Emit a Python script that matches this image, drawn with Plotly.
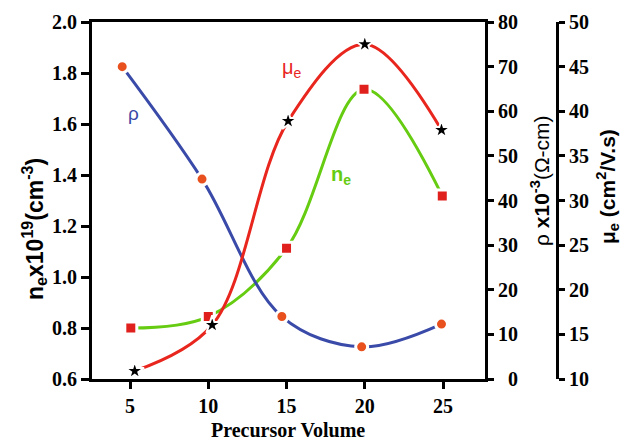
import plotly.graph_objects as go

# Precursor volume at which each quantity was measured
volume_rho = [4.5, 9.6, 14.7, 19.8, 24.9]
volume_mu = [5.3, 10.25, 15.1, 20.0, 24.9]
volume_n = [5.05, 10.0, 15.0, 19.95, 24.95]

# Resistivity rho (x10^-3 ohm-cm), mobility mu_e (cm^2/V.s), carrier conc. n_e (x10^19 cm^-3)
rho = [70.0, 44.8, 14.0, 7.2, 12.3]
mu_e = [10.9, 16.05, 38.9, 47.5, 37.9]
n_e = [0.80, 0.845, 1.113, 1.736, 1.318]

x_ticks = [5, 10, 15, 20, 25]
rho_ticks = [0, 10, 20, 30, 40, 50, 60, 70, 80]
rho_ticktext = ["\u00a0\u00a00"] + [str(v) for v in rho_ticks[1:]]

BLUE = "#3a4aa8"
RED = "#e8261e"
GREEN = "#66cc11"
ORANGE = "#e8501e"
SQUARE_RED = "#e0201c"

W, H = 623, 440
ML, MR, MT, MB = 92, 10, 22, 61
PW = W - ML - MR
PH = H - MT - MB
x_end = 393 / PW

fig = go.Figure()

# smooth curves, each followed by its markers (white rim leaves a small gap in the line)
fig.add_trace(go.Scatter(x=volume_n, y=n_e, mode="lines", yaxis="y",
                         line=dict(color=GREEN, width=3, shape="spline", smoothing=1.0),
                         hoverinfo="skip", showlegend=False))
fig.add_trace(go.Scatter(x=volume_n, y=n_e, mode="markers", yaxis="y",
                         marker=dict(symbol="square", size=12, color=SQUARE_RED,
                                     line=dict(color="white", width=3)),
                         showlegend=False))

fig.add_trace(go.Scatter(x=volume_rho, y=rho, mode="lines", yaxis="y2",
                         line=dict(color=BLUE, width=3, shape="spline", smoothing=1.0),
                         hoverinfo="skip", showlegend=False))
fig.add_trace(go.Scatter(x=volume_rho, y=rho, mode="markers", yaxis="y2",
                         marker=dict(symbol="circle", size=12, color=ORANGE,
                                     line=dict(color="white", width=3)),
                         showlegend=False))

fig.add_trace(go.Scatter(x=volume_mu, y=mu_e, mode="lines", yaxis="y3",
                         line=dict(color=RED, width=3, shape="spline", smoothing=1.0),
                         hoverinfo="skip", showlegend=False))
fig.add_trace(go.Scatter(x=volume_mu, y=mu_e, mode="markers", yaxis="y3",
                         marker=dict(symbol="star", size=14, color="black",
                                     line=dict(color="white", width=2)),
                         showlegend=False))

tick_font = dict(family="Liberation Serif", size=20, color="black", weight="bold")
axis_common = dict(showline=True, linewidth=3, linecolor="black", ticks="outside",
                   tickwidth=3, tickcolor="black", showgrid=False, zeroline=False,
                   tickfont=tick_font)

fig.update_layout(
    width=W, height=H,
    margin=dict(l=ML, r=MR, t=MT, b=MB),
    paper_bgcolor="white", plot_bgcolor="white",
    xaxis=dict(domain=[0, x_end], range=[2.57, 27.68], tickvals=x_ticks,
               ticklen=7, mirror=True, **axis_common),
    yaxis=dict(range=[0.6, 2.0], tick0=0.6, dtick=0.2, tickformat=".1f",
               ticklen=8, **axis_common),
    yaxis2=dict(overlaying="y", side="right", anchor="x", range=[0, 80],
                tickvals=rho_ticks, ticktext=rho_ticktext, ticklen=6, **axis_common),
    yaxis3=dict(overlaying="y", side="right", anchor="free", position=(557 - ML) / PW,
                range=[10, 50], tick0=10, dtick=5, ticklen=6, **axis_common),
)

def px(xp):
    return (xp - ML) / PW

def py(yp):
    return (H - MB - yp) / PH

sans = "Liberation Sans"
annotations = [
    dict(text="<b>n<sub>e</sub>x10<sup>19</sup>(cm<sup>-3</sup>)</b>", x=px(34), y=py(229),
         textangle=-90, font=dict(family=sans, size=23, color="black")),
    dict(text="ρ <b>x10<sup>-3</sup></b>(Ω-cm)", x=px(540), y=py(181),
         textangle=-90, font=dict(family=sans, size=21, color="black")),
    dict(text="<b>μ<sub>e</sub> (cm<sup>2</sup>/V.s)</b>", x=px(607), y=py(187),
         textangle=-90, font=dict(family=sans, size=21, color="black")),
    dict(text="<b>Precursor Volume</b>", x=px(288), y=py(430),
         font=dict(family="Liberation Serif", size=20, color="black")),
]
for a in annotations:
    a.update(xref="paper", yref="paper", xanchor="center", yanchor="middle", showarrow=False)

# curve labels placed in data coordinates
annotations += [
    dict(text="ρ", x=5.19, y=1.643, xref="x", yref="y", showarrow=False,
         font=dict(family=sans, size=19, color=BLUE)),
    dict(text="μ<sub>e</sub>", x=15.35, y=1.816, xref="x", yref="y", showarrow=False,
         font=dict(family=sans, size=20, color=RED)),
    dict(text="<b>n<sub>e</sub></b>", x=18.48, y=1.40, xref="x", yref="y", showarrow=False,
         font=dict(family=sans, size=20, color=GREEN)),
]
fig.update_layout(annotations=annotations)

fig.write_html("out.html")
